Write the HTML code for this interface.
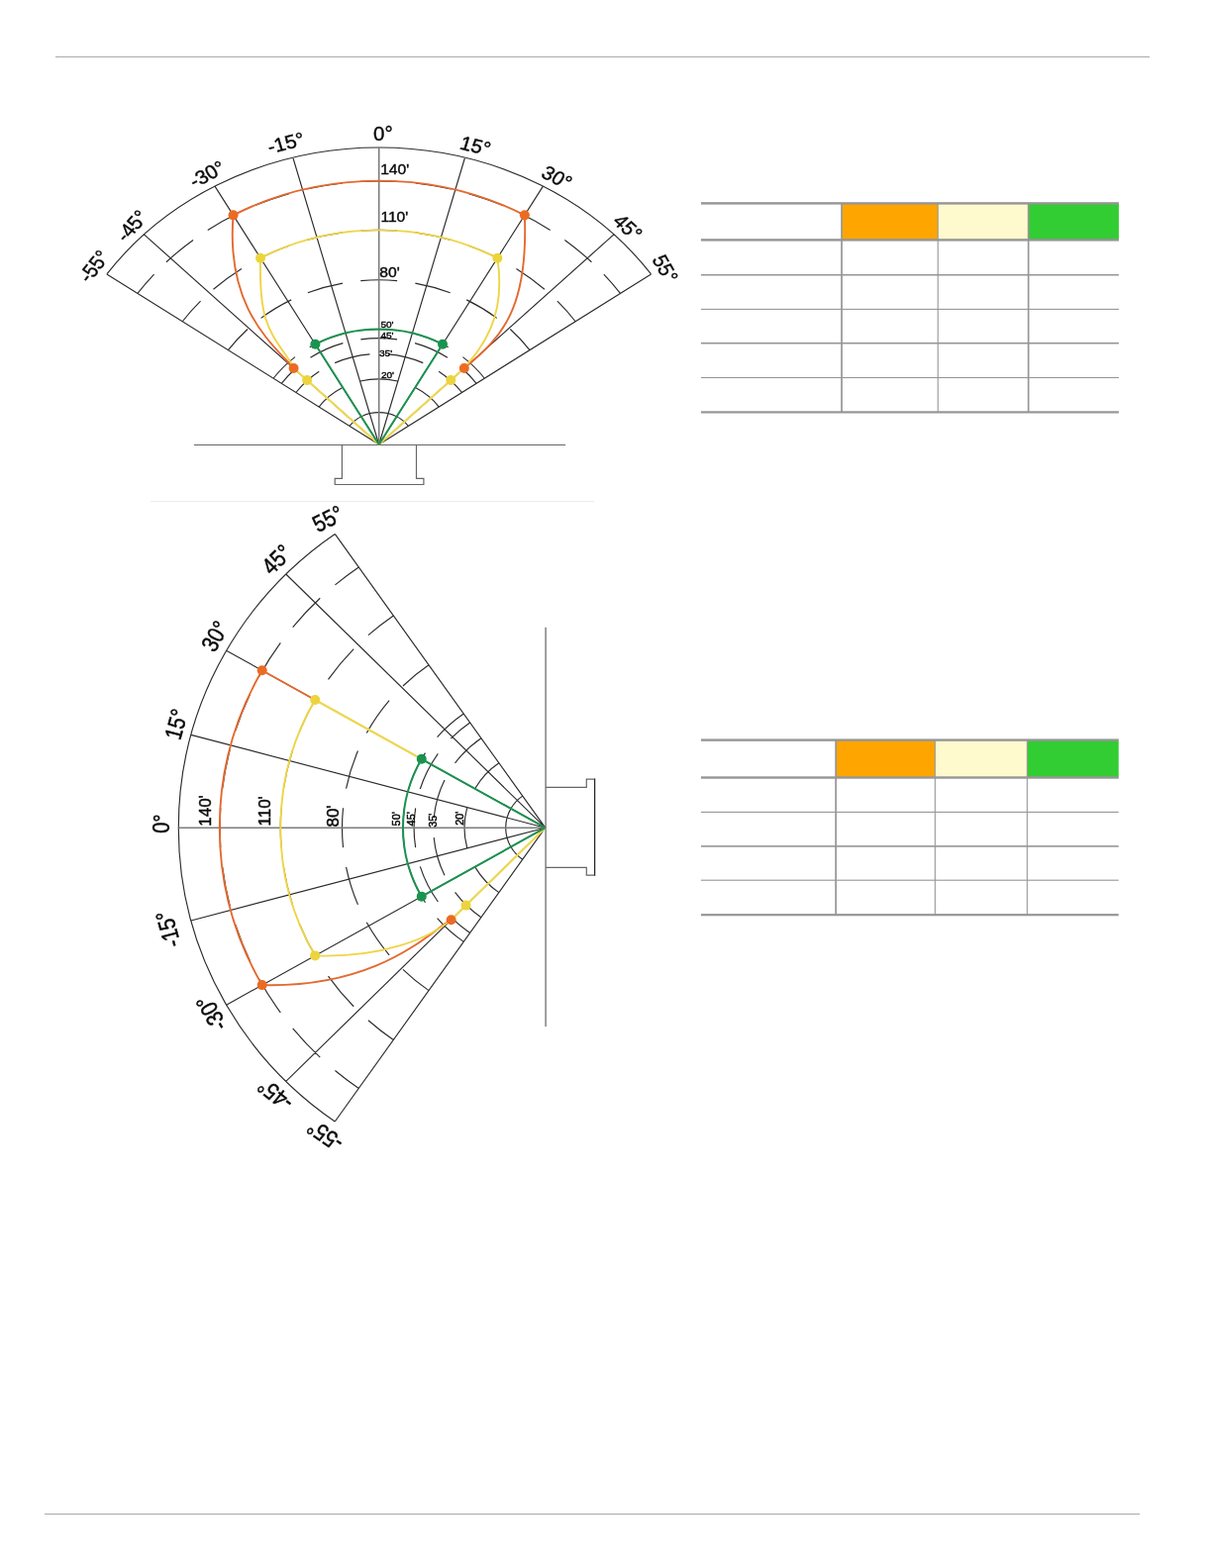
<!DOCTYPE html>
<html><head><meta charset="utf-8"><style>
html,body{margin:0;padding:0;background:#fff;}
body{width:1224px;height:1584px;position:relative;overflow:hidden;}
svg{position:absolute;left:0;top:0;}
.g{fill:none;stroke:#2b2b2b;stroke-width:1.15;vector-effect:non-scaling-stroke;}
.z{fill:none;stroke:#7c7c7c;stroke-width:1.6;vector-effect:non-scaling-stroke;}
.b{fill:none;stroke:#666;stroke-width:1.2;}
.b2{fill:none;stroke:#808080;stroke-width:1.5;}
.co{fill:none;stroke:#e4692f;stroke-width:1.9;vector-effect:non-scaling-stroke;}
.cy{fill:none;stroke:#eed546;stroke-width:1.9;vector-effect:non-scaling-stroke;}
.cy2{fill:none;stroke:#efd84f;stroke-width:2.1;vector-effect:non-scaling-stroke;}
.cg{fill:none;stroke:#1c9150;stroke-width:2;vector-effect:non-scaling-stroke;}
.do{fill:#ec6b22;} .dy{fill:#ecd43c;} .dg{fill:#1a9350;}
text{font-family:"Liberation Sans",sans-serif;fill:#0a0a0a;stroke:#0a0a0a;stroke-width:0.4px;}
.al{font-size:19.5px;}
.dl{font-size:14px;}
.ds{font-size:9px;}
.hl{position:absolute;height:1px;background:#aaaaaa;}
</style></head><body>
<div class="hl" style="left:56px;top:57px;width:1105px;"></div>
<div class="hl" style="left:45px;top:1529px;width:1106px;"></div>
<div class="hl" style="left:152px;top:506px;width:448px;background:#ececec;height:1px;"></div>
<svg width="1224" height="1584" viewBox="0 0 1224 1584">
<path class="b" d="M195.9 449.5H571.1"/><path class="b" d="M345.4 449.5V483.4H338.2V489.5H427.9V483.4H420.5V449.5"/>
<path class="b2" d="M551.1 633.7V1036.9"/><path class="b" d="M551.1 795.3H592.3V787.1H600.6M600.6 884.1H592.3V876.4H551.1"/><path fill="none" stroke="#262626" stroke-width="1.3" d="M600.6 786.5V884.7"/>
<rect x="850.0" y="205.4" width="97.20" height="37.00" fill="#ffa500"/><rect x="947.2" y="205.4" width="91.40" height="37.00" fill="#fffacd"/><rect x="1038.6" y="205.4" width="91.30" height="37.00" fill="#32cd32"/><rect x="707.9" y="204.20" width="422.00" height="2.4" fill="#969696"/><rect x="707.9" y="241.20" width="422.00" height="2.4" fill="#969696"/><rect x="707.9" y="276.90" width="422.00" height="1.6" fill="#969696"/><rect x="707.9" y="311.85" width="422.00" height="1.1" fill="#969696"/><rect x="707.9" y="345.90" width="422.00" height="1.6" fill="#969696"/><rect x="707.9" y="380.95" width="422.00" height="1.1" fill="#969696"/><rect x="707.9" y="415.30" width="422.00" height="2.2" fill="#969696"/><rect x="849.15" y="205.40" width="1.7" height="211.00" fill="#969696"/><rect x="946.65" y="205.40" width="1.1" height="211.00" fill="#969696"/><rect x="1037.75" y="205.40" width="1.7" height="211.00" fill="#969696"/><rect x="844.1" y="747.6" width="100.20" height="37.90" fill="#ffa500"/><rect x="944.3" y="747.6" width="93.00" height="37.90" fill="#fffacd"/><rect x="1037.3" y="747.6" width="92.40" height="37.90" fill="#32cd32"/><rect x="707.9" y="746.40" width="421.80" height="2.4" fill="#969696"/><rect x="707.9" y="784.30" width="421.80" height="2.4" fill="#969696"/><rect x="707.9" y="819.85" width="421.80" height="1.1" fill="#969696"/><rect x="707.9" y="854.10" width="421.80" height="1.6" fill="#969696"/><rect x="707.9" y="888.65" width="421.80" height="1.1" fill="#969696"/><rect x="707.9" y="923.10" width="421.80" height="2.2" fill="#969696"/><rect x="843.25" y="747.60" width="1.7" height="176.60" fill="#969696"/><rect x="943.75" y="747.60" width="1.1" height="176.60" fill="#969696"/><rect x="1036.75" y="747.60" width="1.1" height="176.60" fill="#969696"/>
<g transform="matrix(1.11833 0 0 1.00000 382.7 449.0)"><path class="g" d="M0,0L-245.75,-172.07M0,0L-212.13,-212.13M0,0L-148.18,-260.85M0,0L-77.65,-289.78M0,0L77.65,-289.78M0,0L148.18,-260.85M0,0L212.13,-212.13M0,0L245.75,-172.07M-245.75,-172.07A300,300 0 0 1 245.75,-172.07M-16.48,-265.59A266.1,266.1 0 0 1 16.48,-265.59M32.94,-264.05A266.1,266.1 0 0 1 65.28,-257.97M-65.28,-257.97A266.1,266.1 0 0 1 -32.94,-264.05M81.21,-253.4A266.1,266.1 0 0 1 111.91,-241.42M-111.91,-241.42A266.1,266.1 0 0 1 -81.21,-253.4M126.69,-234.01A266.1,266.1 0 0 1 154.64,-216.56M-154.64,-216.56A266.1,266.1 0 0 1 -126.69,-234.01M167.79,-206.54A266.1,266.1 0 0 1 192.03,-184.21M-192.03,-184.21A266.1,266.1 0 0 1 -167.79,-206.54M203.1,-171.93A266.1,266.1 0 0 1 217.98,-152.63M-217.98,-152.63A266.1,266.1 0 0 1 -203.1,-171.93M-16.43,-215.98A216.6,216.6 0 0 1 16.43,-215.98M32.95,-214.08A216.6,216.6 0 0 1 64.95,-206.63M-64.95,-206.63A216.6,216.6 0 0 1 -32.95,-214.08M80.61,-201.04A216.6,216.6 0 0 1 110.1,-186.53M-110.1,-186.53A216.6,216.6 0 0 1 -80.61,-201.04M124.08,-177.54A216.6,216.6 0 0 1 149.51,-156.73M-149.51,-156.73A216.6,216.6 0 0 1 -124.08,-177.54M161.09,-144.79A216.6,216.6 0 0 1 177.43,-124.24M-177.43,-124.24A216.6,216.6 0 0 1 -161.09,-144.79M-16.48,-165.38A166.2,166.2 0 0 1 16.48,-165.38M32.79,-162.93A166.2,166.2 0 0 1 64.3,-153.26M-64.3,-153.26A166.2,166.2 0 0 1 -32.79,-162.93M79.18,-146.13A166.2,166.2 0 0 1 106.45,-127.63M-106.45,-127.63A166.2,166.2 0 0 1 -79.18,-146.13M118.58,-116.45A166.2,166.2 0 0 1 136.14,-95.33M-136.14,-95.33A166.2,166.2 0 0 1 -118.58,-116.45M-16.44,-115.23A116.4,116.4 0 0 1 16.44,-115.23M32.55,-111.76A116.4,116.4 0 0 1 62.54,-98.17M-62.54,-98.17A116.4,116.4 0 0 1 -32.55,-111.76M75.75,-88.38A116.4,116.4 0 0 1 95.35,-66.76M-95.35,-66.76A116.4,116.4 0 0 1 -75.75,-88.38M-16.43,-106.14A107.4,107.4 0 0 1 16.43,-106.14M32.47,-102.37A107.4,107.4 0 0 1 61.91,-87.76M-61.91,-87.76A107.4,107.4 0 0 1 -32.47,-102.37M74.61,-77.26A107.4,107.4 0 0 1 87.98,-61.6M-87.98,-61.6A107.4,107.4 0 0 1 -74.61,-77.26M8.25,-91.13A91.5,91.5 0 0 1 39.82,-82.38M-39.82,-82.38A91.5,91.5 0 0 1 -8.25,-91.13M54.04,-73.84A91.5,91.5 0 0 1 74.95,-52.48M-74.95,-52.48A91.5,91.5 0 0 1 -54.04,-73.84M-16.79,-63.98A66.15,66.15 0 0 1 16.79,-63.98M33.27,-57.17A66.15,66.15 0 0 1 54.19,-37.94M-54.19,-37.94A66.15,66.15 0 0 1 -33.27,-57.17M-26.54,-18.58A32.4,32.4 0 0 1 26.54,-18.58"/><path class="z" d="M0,0L0,-300"/><path class="cy2" d="M0,0L-77,-77M0,0L77,-77"/><path class="cg" d="M0,0L-57.49,-101.21M0,0L57.49,-101.21M-57.49,-101.21A116.4,116.4 0 0 1 57.49,-101.21"/><path class="co" d="M-131.59,-231.63A266.4,266.4 0 0 1 131.59,-231.63M-131.59,-231.63C-138.33,-138.33 -97.15,-102.57 -77,-77M131.59,-231.63C135.05,-136.69 110.77,-108.01 77,-77"/><path class="cy" d="M-106.99,-188.33A216.6,216.6 0 0 1 106.99,-188.33M-106.99,-188.33C-108.62,-116.53 -96.71,-113.41 -75.31,-75.31M106.99,-188.33C115.63,-124.36 90.27,-94.75 75.31,-75.31"/><text class="al" x="-17.99" y="0" transform="rotate(-55) translate(0,-307.3) rotate(0) scale(0.94,1)">-55°</text><text class="al" x="-18.99" y="0" transform="rotate(-45) translate(0,-307.3) rotate(-6) scale(0.94,1)">-45°</text><text class="al" x="-17.99" y="0" transform="rotate(-29.6) translate(0,-307.3) rotate(0) scale(0.94,1)">-30°</text><text class="al" x="-20.49" y="-2" transform="rotate(-15) translate(0,-307.3) rotate(0) scale(0.94,1)">-15°</text><text class="al" x="-5.42" y="0" transform="rotate(0) translate(0,-307.3) rotate(0) scale(0.94,1)">0°</text><text class="al" x="-8.34" y="0" transform="rotate(15) translate(0,-307.3) rotate(0) scale(0.94,1)">15°</text><text class="al" x="-7.84" y="0" transform="rotate(29.6) translate(0,-307.3) rotate(0) scale(0.94,1)">30°</text><text class="al" x="-10.84" y="0" transform="rotate(45) translate(0,-307.3) rotate(0) scale(0.94,1)">45°</text><text class="al" x="-12.84" y="0" transform="rotate(55) translate(0,-307.3) rotate(8) scale(0.94,1)">55°</text><text class="dl" transform="translate(1.3,-273.2) scale(1.0,1)">140'</text><text class="dl" transform="translate(1.5,-225) scale(1.0,1)">110'</text><text class="dl" transform="translate(0.6,-168.7) scale(1.0,1)">80'</text><text class="ds" transform="translate(1.5,-118.5) scale(1.0,1)">50'</text><text class="ds" transform="translate(1.5,-106.8) scale(1.0,1)">45'</text><text class="ds" transform="translate(0.3,-88.8) scale(1.0,1)">35'</text><text class="ds" transform="translate(2,-67.1) scale(1.0,1)">20'</text></g><circle class="do" cx="235.54" cy="217.37" r="5"/><circle class="do" cx="529.86" cy="217.37" r="5"/><circle class="do" cx="296.58" cy="372" r="5"/><circle class="do" cx="468.82" cy="372" r="5"/><circle class="dy" cx="263.05" cy="260.67" r="5"/><circle class="dy" cx="502.35" cy="260.67" r="5"/><circle class="dy" cx="310.11" cy="384.09" r="5"/><circle class="dy" cx="455.29" cy="384.09" r="5"/><circle class="dg" cx="318.4" cy="347.79" r="5"/><circle class="dg" cx="447" cy="347.79" r="5"/>
<g transform="matrix(0 -1.20767 1.23467 0 550.7 836.2)"><path class="g" d="M0,0L-245.75,-172.07M0,0L-212.13,-212.13M0,0L-148.18,-260.85M0,0L-77.65,-289.78M0,0L77.65,-289.78M0,0L148.18,-260.85M0,0L212.13,-212.13M0,0L245.75,-172.07M-245.75,-172.07A300,300 0 0 1 245.75,-172.07M-16.48,-265.59A266.1,266.1 0 0 1 16.48,-265.59M32.94,-264.05A266.1,266.1 0 0 1 65.28,-257.97M-65.28,-257.97A266.1,266.1 0 0 1 -32.94,-264.05M81.21,-253.4A266.1,266.1 0 0 1 111.91,-241.42M-111.91,-241.42A266.1,266.1 0 0 1 -81.21,-253.4M126.69,-234.01A266.1,266.1 0 0 1 154.64,-216.56M-154.64,-216.56A266.1,266.1 0 0 1 -126.69,-234.01M167.79,-206.54A266.1,266.1 0 0 1 192.03,-184.21M-192.03,-184.21A266.1,266.1 0 0 1 -167.79,-206.54M203.1,-171.93A266.1,266.1 0 0 1 217.98,-152.63M-217.98,-152.63A266.1,266.1 0 0 1 -203.1,-171.93M-16.43,-215.98A216.6,216.6 0 0 1 16.43,-215.98M32.95,-214.08A216.6,216.6 0 0 1 64.95,-206.63M-64.95,-206.63A216.6,216.6 0 0 1 -32.95,-214.08M80.61,-201.04A216.6,216.6 0 0 1 110.1,-186.53M-110.1,-186.53A216.6,216.6 0 0 1 -80.61,-201.04M124.08,-177.54A216.6,216.6 0 0 1 149.51,-156.73M-149.51,-156.73A216.6,216.6 0 0 1 -124.08,-177.54M161.09,-144.79A216.6,216.6 0 0 1 177.43,-124.24M-177.43,-124.24A216.6,216.6 0 0 1 -161.09,-144.79M-16.48,-165.38A166.2,166.2 0 0 1 16.48,-165.38M32.79,-162.93A166.2,166.2 0 0 1 64.3,-153.26M-64.3,-153.26A166.2,166.2 0 0 1 -32.79,-162.93M79.18,-146.13A166.2,166.2 0 0 1 106.45,-127.63M-106.45,-127.63A166.2,166.2 0 0 1 -79.18,-146.13M118.58,-116.45A166.2,166.2 0 0 1 136.14,-95.33M-136.14,-95.33A166.2,166.2 0 0 1 -118.58,-116.45M-16.44,-115.23A116.4,116.4 0 0 1 16.44,-115.23M32.55,-111.76A116.4,116.4 0 0 1 62.54,-98.17M-62.54,-98.17A116.4,116.4 0 0 1 -32.55,-111.76M75.75,-88.38A116.4,116.4 0 0 1 95.35,-66.76M-95.35,-66.76A116.4,116.4 0 0 1 -75.75,-88.38M-16.43,-106.14A107.4,107.4 0 0 1 16.43,-106.14M32.47,-102.37A107.4,107.4 0 0 1 61.91,-87.76M-61.91,-87.76A107.4,107.4 0 0 1 -32.47,-102.37M74.61,-77.26A107.4,107.4 0 0 1 87.98,-61.6M-87.98,-61.6A107.4,107.4 0 0 1 -74.61,-77.26M8.25,-91.13A91.5,91.5 0 0 1 39.82,-82.38M-39.82,-82.38A91.5,91.5 0 0 1 -8.25,-91.13M54.04,-73.84A91.5,91.5 0 0 1 74.95,-52.48M-74.95,-52.48A91.5,91.5 0 0 1 -54.04,-73.84M-16.79,-63.98A66.15,66.15 0 0 1 16.79,-63.98M33.27,-57.17A66.15,66.15 0 0 1 54.19,-37.94M-54.19,-37.94A66.15,66.15 0 0 1 -33.27,-57.17M-26.54,-18.58A32.4,32.4 0 0 1 26.54,-18.58"/><path class="z" d="M0,0L0,-300"/><path class="cy2" d="M0,0L-77,-77M57.49,-101.21L106.99,-188.33"/><path class="cg" d="M0,0L-57.49,-101.21M0,0L57.49,-101.21M-57.49,-101.21A116.4,116.4 0 0 1 57.49,-101.21"/><path class="co" d="M-131.59,-231.63A266.4,266.4 0 0 1 131.59,-231.63M-131.59,-231.63C-134.11,-135.18 -86.97,-94.63 -77,-77M106.99,-188.33L131.59,-231.63"/><path class="cy" d="M-106.99,-188.33A216.6,216.6 0 0 1 106.99,-188.33M-106.99,-188.33C-108.9,-134.52 -93.13,-94.01 -75.31,-75.31"/><text class="al" x="-17.99" y="0" transform="rotate(-55) translate(0,-307.3) rotate(0) scale(0.855,1)">-55°</text><text class="al" x="-18.99" y="0" transform="rotate(-45) translate(0,-307.3) rotate(-6) scale(0.855,1)">-45°</text><text class="al" x="-17.99" y="0" transform="rotate(-29.6) translate(0,-307.3) rotate(0) scale(0.855,1)">-30°</text><text class="al" x="-20.49" y="-6" transform="rotate(-15) translate(0,-307.3) rotate(0) scale(0.855,1)">-15°</text><text class="al" x="-5.42" y="0" transform="rotate(0) translate(0,-307.3) rotate(0) scale(0.855,1)">0°</text><text class="al" x="-8.34" y="0" transform="rotate(15) translate(0,-307.3) rotate(0) scale(0.855,1)">15°</text><text class="al" x="-7.84" y="0" transform="rotate(29.6) translate(0,-307.3) rotate(0) scale(0.855,1)">30°</text><text class="al" x="-10.84" y="0" transform="rotate(45) translate(0,-307.3) rotate(0) scale(0.855,1)">45°</text><text class="al" x="-12.84" y="0" transform="rotate(55) translate(0,-307.3) rotate(8) scale(0.855,1)">55°</text><text class="dl" transform="translate(1.3,-273.2) scale(1.0,1)">140'</text><text class="dl" transform="translate(1.5,-225) scale(1.0,1)">110'</text><text class="dl" transform="translate(0.6,-168.7) scale(1.0,1)">80'</text><text class="ds" transform="translate(1.5,-118.5) scale(1.0,1)">50'</text><text class="ds" transform="translate(1.5,-106.8) scale(1.0,1)">45'</text><text class="ds" transform="translate(0.3,-88.8) scale(1.0,1)">35'</text><text class="ds" transform="translate(2,-67.1) scale(1.0,1)">20'</text></g><circle class="do" cx="264.71" cy="995.11" r="5"/><circle class="do" cx="264.71" cy="677.29" r="5"/><circle class="do" cx="455.63" cy="929.2" r="5"/><circle class="dy" cx="318.17" cy="965.41" r="5"/><circle class="dy" cx="318.17" cy="706.99" r="5"/><circle class="dy" cx="470.55" cy="914.59" r="5"/><circle class="dg" cx="425.74" cy="905.63" r="5"/><circle class="dg" cx="425.74" cy="766.77" r="5"/>
</svg>
</body></html>
